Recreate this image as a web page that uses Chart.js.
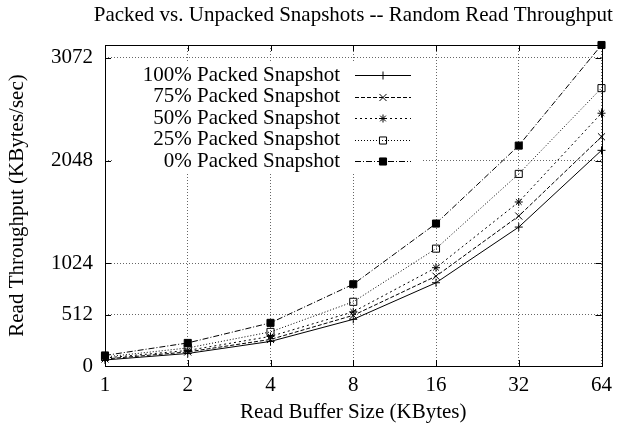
<!DOCTYPE html>
<html>
<head>
<meta charset="utf-8">
<script src="https://cdn.jsdelivr.net/npm/chart.js"></script>
<style>
  html, body { margin: 0; padding: 0; background: #fff; }
  #wrap { width: 621px; height: 433px; }
</style>
</head>
<body>
<div id="wrap"><canvas id="throughputChart" width="621" height="433"></canvas></div>
<script>
const chartTitle = 'Packed vs. Unpacked Snapshots -- Random Read Throughput';
const bufferSizes = ['1', '2', '4', '8', '16', '32', '64'];
const yTickValues = [0, 512, 1024, 2048, 3072];
const packed100 = [60, 125, 245, 465, 830, 1385, 2150];
const packed75 = [70, 140, 265, 505, 895, 1495, 2285];
const packed50 = [80, 155, 295, 540, 980, 1635, 2520];
const packed25 = [90, 180, 340, 640, 1170, 1915, 2770];
const packed0 = [105, 230, 430, 815, 1420, 2197, 3200];
const seriesNames = ['100% Packed Snapshot', '75% Packed Snapshot', '50% Packed Snapshot',
                     '25% Packed Snapshot', '0% Packed Snapshot'];

const FONT = 'Liberation Serif, Times New Roman, serif';

function makeSet(label, data, dash, style, radius, fill) {
    return {
        label: label,
        data: data,
        borderColor: '#000',
        borderWidth: 1,
        borderDash: dash,
        pointStyle: style,
        pointRadius: radius,
        pointBorderColor: '#000',
        pointBorderWidth: 1,
        pointBackgroundColor: fill,
        fill: false,
        tension: 0,
        clip: false
    };
}

const datasets = [
    makeSet(seriesNames[0], packed100, [], 'cross', 4, '#000'),
    makeSet(seriesNames[1], packed75, [4, 2], 'crossRot', 5, '#000'),
    makeSet(seriesNames[2], packed50, [2, 3], 'star', 4, '#000'),
    makeSet(seriesNames[3], packed25, [1, 2], 'rect', 5, 'rgba(0,0,0,0)'),
    makeSet(seriesNames[4], packed0, [6, 2, 1, 2], 'rect', 5, '#000')
];

// legend box placed inside plot like gnuplot key
const keyBox = { left: 112, top: 62, right: 422, bottom: 172 };

const frameAndKey = {
    id: 'frameAndKey',
    beforeDatasetsDraw(chart) {
        const ctx = chart.ctx;
        ctx.save();
        ctx.fillStyle = '#fff';
        ctx.fillRect(keyBox.left, keyBox.top, keyBox.right - keyBox.left, keyBox.bottom - keyBox.top);
        ctx.restore();
    },
    afterDatasetsDraw(chart) {
        const ctx = chart.ctx;
        const a = chart.chartArea;
        const xs = chart.scales.x, ys = chart.scales.y;
        ctx.save();
        ctx.strokeStyle = '#000';
        ctx.lineWidth = 1;
        ctx.setLineDash([]);
        ctx.strokeRect(Math.round(a.left) + 0.5, Math.round(a.top) + 0.5,
                       Math.round(a.right - a.left), Math.round(a.bottom - a.top));
        // inward ticks, mirrored
        const tl = 6;
        ctx.beginPath();
        yTickValues.forEach(v => {
            const y = Math.round(ys.getPixelForValue(v)) + 0.5;
            ctx.moveTo(a.left, y); ctx.lineTo(a.left + tl, y);
            ctx.moveTo(a.right, y); ctx.lineTo(a.right - tl, y);
        });
        bufferSizes.forEach((l, i) => {
            const x = Math.round(xs.getPixelForValue(i)) + 0.5;
            ctx.moveTo(x, a.bottom); ctx.lineTo(x, a.bottom - tl);
            ctx.moveTo(x, a.top); ctx.lineTo(x, a.top + tl);
        });
        ctx.stroke();

        // key
        ctx.font = '21px ' + FONT;
        ctx.fillStyle = '#000';
        ctx.textAlign = 'right';
        ctx.textBaseline = 'middle';
        chart.data.datasets.forEach((ds, i) => {
            const y = 75 + i * 21.6;
            ctx.fillText(ds.label, 340, y);
            ctx.setLineDash(ds.borderDash);
            ctx.beginPath();
            ctx.moveTo(355, Math.round(y) + 0.5);
            ctx.lineTo(411, Math.round(y) + 0.5);
            ctx.stroke();
            ctx.setLineDash([]);
            ctx.fillStyle = ds.pointBackgroundColor;
            Chart.helpers.drawPoint(ctx, {
                pointStyle: ds.pointStyle, radius: ds.pointRadius, rotation: 0, borderWidth: 1
            }, 383, Math.round(y) + 0.5);
            ctx.fillStyle = '#000';
        });

        // title over the plot
        ctx.textAlign = 'center';
        ctx.fillText(chartTitle, (a.left + a.right) / 2, 15);
        ctx.restore();
    }
};

const ctx = document.getElementById('throughputChart').getContext('2d');
const throughputChart = new Chart(ctx, {
    type: 'line',
    data: { labels: bufferSizes, datasets: datasets },
    plugins: [frameAndKey],
    options: {
        responsive: false,
        animation: false,
        devicePixelRatio: 1,
        layout: { padding: { top: 45, right: 19, left: 0, bottom: 0 } },
        plugins: { legend: { display: false }, title: { display: false }, tooltip: { enabled: false } },
        scales: {
            x: {
                type: 'category',
                offset: false,
                afterFit: s => { s.height = 67; },
                grid: { color: '#666', lineWidth: 1, drawTicks: false, offset: false },
                border: { display: false, dash: [1, 2] },
                ticks: { color: '#000', font: { family: FONT, size: 21, lineHeight: 1 },
                         padding: 9, maxRotation: 0, autoSkip: false },
                title: { display: true, text: 'Read Buffer Size (KBytes)', color: '#000',
                         font: { family: FONT, size: 21, lineHeight: 1 },
                         padding: { top: 0, bottom: 10 } }
            },
            y: {
                min: 0,
                max: 3200,
                afterFit: s => { s.width = 105; },
                afterBuildTicks: s => { s.ticks = yTickValues.map(v => ({ value: v })); },
                grid: { color: '#666', lineWidth: 1, drawTicks: false },
                border: { display: false, dash: [1, 2] },
                ticks: { color: '#000', font: { family: FONT, size: 21, lineHeight: 1 },
                         padding: 12, autoSkip: false,
                         callback: v => String(v) },
                title: { display: true, text: 'Read Throughput (KBytes/sec)', color: '#000',
                         font: { family: FONT, size: 21, lineHeight: 1 },
                         padding: { top: 7, bottom: 0 } }
            }
        }
    }
});
</script>
</body>
</html>
